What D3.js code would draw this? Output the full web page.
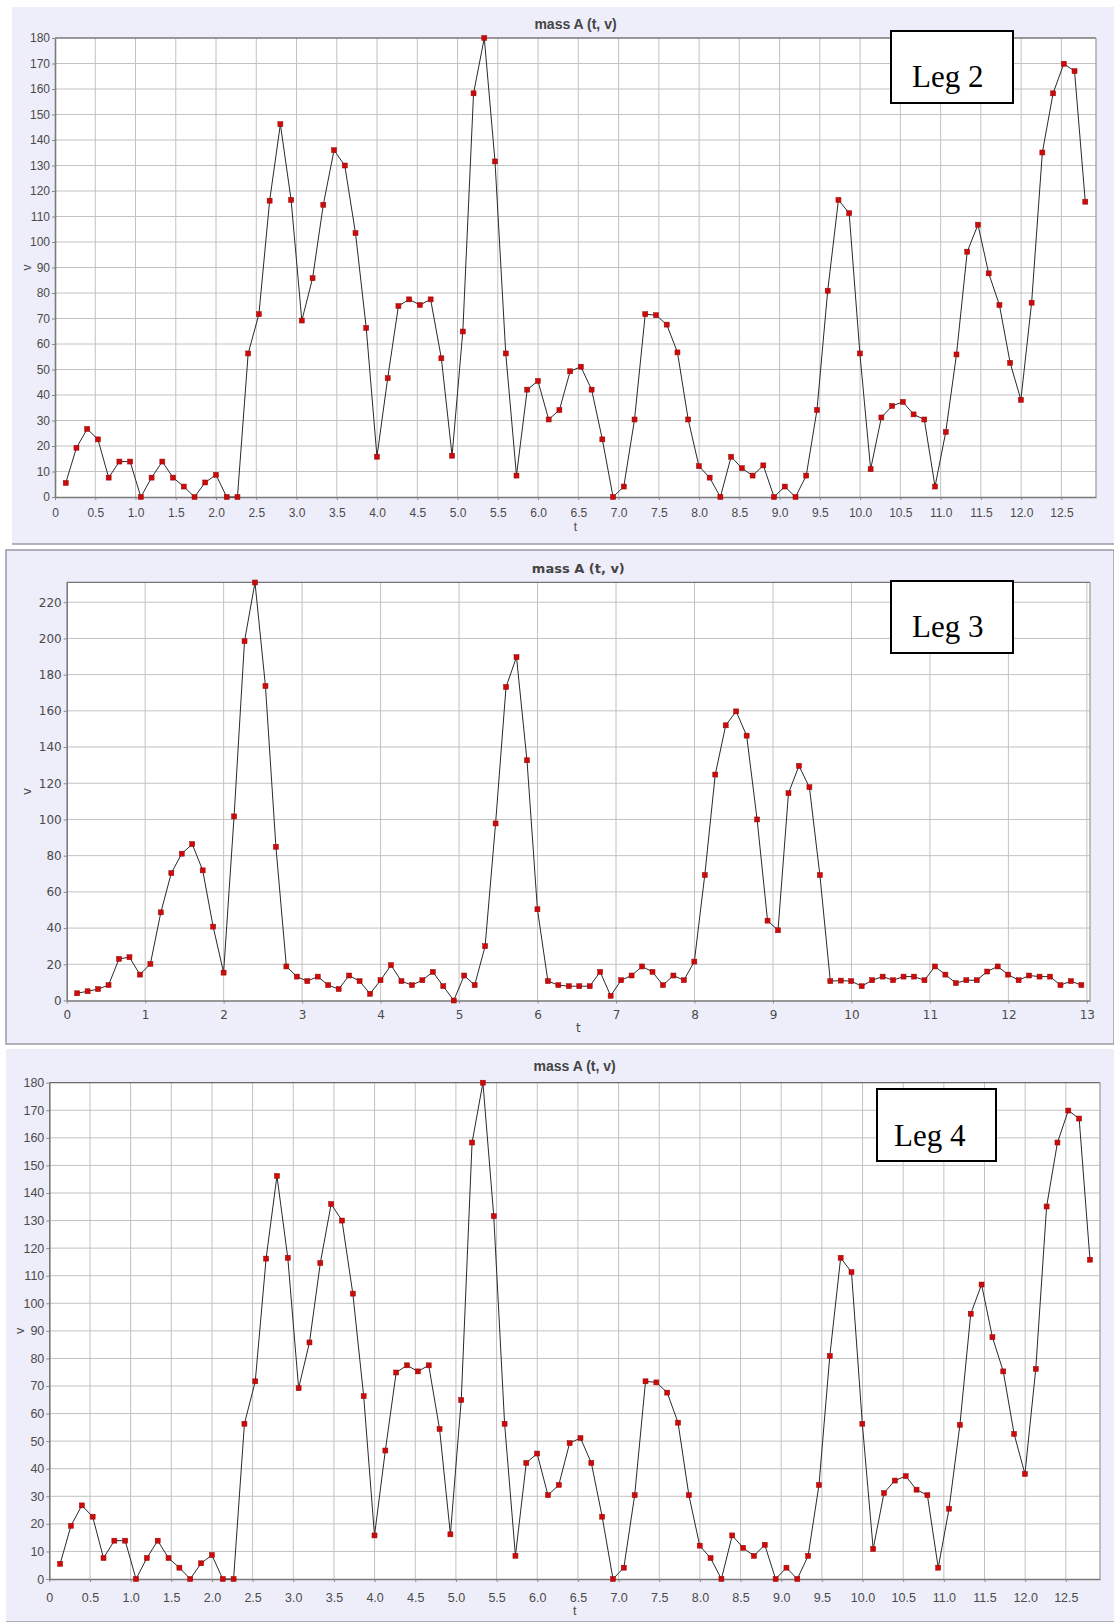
<!DOCTYPE html>
<html>
<head>
<meta charset="utf-8">
<script src="https://cdn.jsdelivr.net/npm/d3@7"></script>
<style>
  body { margin: 0; background: #fff; }
  svg { display: block; }
</style>
</head>
<body>
<svg id="chart" width="1114" height="1622"></svg>
<script>
"use strict";

/* three "mass A (t, v)" logger plots stacked: Leg 2, Leg 3, Leg 4
   one sample every ~0.133 s */

const sampleStep = 0.1333;

// Leg 2 trace (96 samples)
const leg2V = [
  5.5, 19.3, 26.7, 22.6, 7.6, 13.9, 13.9, 0, 7.6, 13.9, 7.6, 4.1, 0, 5.7, 8.7, 0, 0,
  56.3, 71.7, 116.2, 146.2, 116.5, 69.2, 85.8, 114.6, 136, 130, 103.5, 66.3, 15.8,
  46.6, 74.9, 77.5, 75.3, 77.5, 54.4, 16.2, 64.9, 158.3, 180, 131.6, 56.3, 8.4,
  42.1, 45.5, 30.4, 34.1, 49.3, 51.1, 42.1, 22.6, 0, 4.1, 30.4, 71.7, 71.3, 67.6,
  56.7, 30.4, 12.1, 7.6, 0, 15.8, 11.3, 8.4, 12.4, 0, 4.1, 0, 8.4, 34.1, 80.9,
  116.5, 111.3, 56.3, 10.9, 31.2, 35.7, 37.3, 32.4, 30.4, 4.1, 25.5, 55.9, 96.2,
  106.8, 87.7, 75.3, 52.6, 38.1, 76.2, 135.1, 158.3, 169.9, 167, 115.8
];

// Leg 3 trace (97 samples)
const leg3V = [
  4.0, 5.1, 6.3, 8.5, 23.0, 23.9, 14.3, 20.2, 48.7, 70.4, 81.1, 86.4, 71.9, 40.8,
  15.4, 101.7, 198.5, 230.9, 173.7, 84.9, 18.8, 13.2, 10.7, 13.2, 8.5, 6.3, 13.8,
  10.7, 3.7, 11.2, 19.5, 10.7, 8.5, 11.2, 15.8, 7.9, 0, 13.8, 8.5, 30.0, 97.8,
  173.2, 189.7, 132.7, 50.4, 10.7, 8.5, 7.9, 7.9, 7.9, 15.8, 2.6, 11.2, 13.8, 18.8,
  15.8, 8.5, 13.8, 11.2, 21.5, 69.3, 124.8, 152, 159.7, 146.3, 100, 44.1, 38.8,
  114.5, 129.6, 117.8, 69.3, 10.7, 11.0, 10.7, 7.9, 11.2, 13.2, 11.2, 13.2, 13.2,
  11.2, 18.8, 14.3, 9.6, 11.2, 11.2, 16.0, 18.8, 14.3, 11.2, 13.8, 13.2, 13.2, 8.5,
  10.7, 8.5
];

// Leg 4 plot shows the very same trace as Leg 2
const leg4V = leg2V;

// tick values
const halfTicks = [0, 0.5, 1, 1.5, 2, 2.5, 3, 3.5, 4, 4.5, 5, 5.5, 6, 6.5, 7, 7.5, 8,
                   8.5, 9, 9.5, 10, 10.5, 11, 11.5, 12, 12.5];
const unitTicks = [0, 1, 2, 3, 4, 5, 6, 7, 8, 9, 10, 11, 12, 13];
const tenTicks = [0, 10, 20, 30, 40, 50, 60, 70, 80, 90, 100, 110, 120, 130, 140,
                  150, 160, 170, 180];
const twentyTicks = [0, 20, 40, 60, 80, 100, 120, 140, 160, 180, 200, 220];

const narrow = "'Liberation Sans Narrow', 'Liberation Sans', Arial, sans-serif";
const dejavu = "'DejaVu Sans', sans-serif";

const panels = [
  { leg: "Leg 2", values: leg2V, xTicks: halfTicks, yTicks: tenTicks,
    xMax: 12.93, yMax: 180, fmt: d => d === 0 ? "0" : d.toFixed(1),
    bg: {x: 12, y: 7, w: 1102, h: 537, border: false},
    p: {l: 55, t: 38, r: 1096, b: 497},
    titleY: 24, tickY: 513, tY: 527, vX: 27,
    font: narrow, tickSize: 12, titleSize: 14,
    box: {x: 891, y: 31, w: 122, h: 72, tx: 912, ty: 87} },
  { leg: "Leg 3", values: leg3V, xTicks: unitTicks, yTicks: twentyTicks,
    xMax: 13.04, yMax: 231, fmt: d => String(d),
    bg: {x: 6, y: 550, w: 1108, h: 494, border: true},
    p: {l: 66.7, t: 582.3, r: 1090, b: 1000.5},
    titleY: 568.5, tickY: 1015, tY: 1028, vX: 27,
    font: dejavu, tickSize: 12, titleSize: 13,
    box: {x: 891, y: 581, w: 122, h: 72, tx: 912, ty: 637} },
  { leg: "Leg 4", values: leg4V, xTicks: halfTicks, yTicks: tenTicks,
    xMax: 12.92, yMax: 180, fmt: d => d === 0 ? "0" : d.toFixed(1),
    bg: {x: 6, y: 1049, w: 1108, h: 573, border: false},
    p: {l: 49.3, t: 1082.7, r: 1100, b: 1579},
    titleY: 1066, tickY: 1597, tY: 1611, vX: 19.5,
    font: narrow, tickSize: 12.5, titleSize: 14,
    box: {x: 877, y: 1089, w: 119, h: 72, tx: 894, ty: 1146} }
];

const svg = d3.select("#chart");

panels.forEach(P => {
  const g = svg.append("g");
  const {l, t, r, b} = P.p;

  // ---- panel background
  g.append("rect").attr("x", P.bg.x).attr("y", P.bg.y)
    .attr("width", P.bg.w).attr("height", P.bg.h)
    .attr("fill", "#eeeefa")
    .attr("stroke", P.bg.border ? "#9a9aa6" : "none").attr("stroke-width", 1.5);
  if (!P.bg.border) {
    g.append("line").attr("x1", P.bg.x).attr("x2", P.bg.x + P.bg.w)
      .attr("y1", P.bg.y + P.bg.h).attr("y2", P.bg.y + P.bg.h)
      .attr("stroke", "#9a9aa6").attr("stroke-width", 1.5);
  }

  // ---- scales
  const x = d3.scaleLinear().domain([0, P.xMax]).range([l, r]);
  const y = d3.scaleLinear().domain([0, P.yMax]).range([b, t]);

  g.append("rect").attr("x", l).attr("y", t).attr("width", r - l).attr("height", b - t)
    .attr("fill", "#fff");

  // ---- grid
  g.append("g").selectAll("line").data(P.xTicks.filter(d => d > 0)).enter().append("line")
    .attr("x1", d => x(d)).attr("x2", d => x(d)).attr("y1", t).attr("y2", b)
    .attr("stroke", "#c2c2c2").attr("stroke-width", 1);
  g.append("g").selectAll("line").data(P.yTicks.filter(d => d > 0)).enter().append("line")
    .attr("x1", l).attr("x2", r).attr("y1", d => y(d)).attr("y2", d => y(d))
    .attr("stroke", "#c2c2c2").attr("stroke-width", 1);

  // ---- frame (top darker, right grey)
  g.append("line").attr("x1", l).attr("x2", r).attr("y1", t).attr("y2", t)
    .attr("stroke", "#555").attr("stroke-width", 1);
  g.append("line").attr("x1", r).attr("x2", r).attr("y1", t).attr("y2", b)
    .attr("stroke", "#999").attr("stroke-width", 1.2);

  // ---- axes
  const tk = 3;
  const xPad = (P.tickY - b) - 0.35 * P.tickSize - tk;
  const xa = g.append("g").attr("transform", `translate(0,${b})`)
    .call(d3.axisBottom(x).tickValues(P.xTicks).tickFormat(P.fmt)
      .tickSize(tk).tickSizeOuter(0).tickPadding(xPad));
  const ya = g.append("g").attr("transform", `translate(${l},0)`)
    .call(d3.axisLeft(y).tickValues(P.yTicks).tickSize(tk).tickSizeOuter(0).tickPadding(2));
  [xa, ya].forEach(a => {
    a.select(".domain").attr("stroke", "#7a7a7a").attr("stroke-width", 1.6);
    a.selectAll(".tick line").attr("stroke", "#888");
    a.selectAll("text").attr("fill", "#4a4a4a")
      .style("font-family", P.font).style("font-size", P.tickSize + "px");
  });

  // ---- titles
  g.append("text").attr("x", (l + r) / 2).attr("y", P.titleY)
    .attr("text-anchor", "middle").attr("dominant-baseline", "central")
    .style("font-family", P.font).style("font-weight", "bold")
    .style("font-size", P.titleSize + "px").attr("fill", "#444")
    .text("mass A (t, v)");
  g.append("text").attr("x", (l + r) / 2).attr("y", P.tY)
    .attr("text-anchor", "middle").attr("dominant-baseline", "central")
    .style("font-family", P.font).style("font-size", P.tickSize + "px").attr("fill", "#4a4a4a")
    .text("t");
  g.append("text")
    .attr("transform", `translate(${P.vX},${(t + b) / 2}) rotate(-90)`)
    .attr("text-anchor", "middle").attr("dominant-baseline", "central")
    .style("font-family", P.font).style("font-size", P.tickSize + "px").attr("fill", "#4a4a4a")
    .text("v");

  // ---- series
  const line = d3.line()
    .x((d, i) => x((i + 1) * sampleStep))
    .y(d => y(d));
  g.append("path").datum(P.values).attr("d", line)
    .attr("fill", "none").attr("stroke", "#2a2a2a").attr("stroke-width", 1);

  g.append("g").selectAll("rect").data(P.values).enter().append("rect")
    .attr("x", (d, i) => x((i + 1) * sampleStep) - 2.5)
    .attr("y", d => y(d) - 2.5)
    .attr("width", 5).attr("height", 5)
    .attr("fill", "#cc0a0a").attr("stroke", "#960808").attr("stroke-width", 0.5);

  // ---- "Leg n" box
  g.append("rect").attr("x", P.box.x).attr("y", P.box.y)
    .attr("width", P.box.w).attr("height", P.box.h)
    .attr("fill", "#fff").attr("stroke", "#000").attr("stroke-width", 2);
  g.append("text").attr("x", P.box.tx).attr("y", P.box.ty)
    .style("font-family", "'Liberation Serif', 'Times New Roman', serif")
    .style("font-size", "31px").attr("fill", "#000")
    .text(P.leg);
});
</script>
</body>
</html>
